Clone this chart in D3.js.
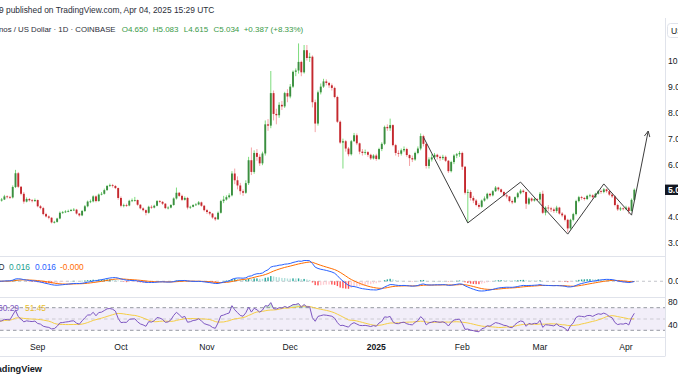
<!DOCTYPE html>
<html>
<head>
<meta charset="utf-8">
<script src="https://cdn.jsdelivr.net/npm/d3@7"></script>
<style>
  body { margin: 0; background: #fff; }
  svg { display: block; }
  text { font-family: "Liberation Sans", Arial, sans-serif; }
</style>
</head>
<body>
<svg id="chart" width="678" height="381"></svg>
<script>
// daily candles, first bar 2024-08-18, open of each bar = previous close
const startDate = "2024-08-18";
const firstOpen = 4.55;
const closes = [
  // Aug 18-31
  4.62, 4.66, 4.78, 4.76, 4.74, 5.14, 5.67, 5.15, 4.88, 4.58, 4.68, 4.63, 4.60, 4.64,
  // Sep
  4.40, 4.33, 4.10, 4.01, 3.96, 3.78, 3.80, 3.93, 4.15, 4.17, 4.20, 4.22, 4.26, 4.27, 4.12,
  4.05, 4.22, 4.40, 4.58, 4.59, 4.78, 4.60, 4.85, 4.88, 5.02, 5.18, 5.21, 5.18, 5.10, 4.72,
  // Oct
  4.42, 4.44, 4.43, 4.61, 4.63, 4.64, 4.46, 4.32, 4.25, 4.15, 4.38, 4.35, 4.42, 4.60, 4.57,
  4.50, 4.33, 4.35, 4.45, 4.70, 4.92, 4.80, 4.65, 4.72, 4.35, 4.38, 4.45, 4.47, 4.55, 4.42, 4.25,
  // Nov
  4.18, 4.12, 3.97, 3.90, 4.15, 4.60, 4.66, 4.75, 4.82, 5.66, 5.40, 5.20, 4.98, 4.92, 5.29,
  6.17, 5.72, 6.45, 6.30, 6.05, 6.43, 7.55, 7.50, 8.75, 7.95, 7.90, 8.30, 8.24, 8.75, 8.62,
  // Dec
  9.00, 9.57, 9.62, 9.95, 9.55, 10.40, 10.10, 10.15, 8.40, 7.58, 8.78, 9.00, 9.20, 9.14, 9.05,
  8.95, 8.60, 7.65, 6.85, 6.90, 6.62, 6.40, 6.90, 7.13, 6.82, 6.50, 6.45, 6.48, 6.38, 6.24, 6.35,
  // Jan
  6.22, 6.60, 6.80, 7.45, 7.40, 7.52, 6.75, 6.45, 6.42, 6.55, 6.60, 6.37, 6.25, 6.20, 6.45,
  6.62, 7.10, 6.80, 5.95, 6.20, 6.28, 6.38, 6.30, 6.25, 6.30, 6.15, 5.75, 6.10, 6.35, 6.40, 6.45,
  // Feb
  5.92, 4.92, 4.95, 4.72, 4.62, 4.45, 4.38, 4.62, 4.70, 4.88, 4.82, 4.98, 5.12, 5.05,
  4.95, 4.82, 4.78, 4.60, 4.55, 4.75, 4.90, 5.00, 4.95, 4.50, 4.70, 4.62, 4.68, 4.66,
  // Mar
  4.88, 4.15, 4.35, 4.32, 4.28, 4.22, 4.35, 4.12, 4.05, 3.88, 3.55, 3.88, 4.10, 4.60, 4.75,
  4.72, 4.68, 4.80, 4.82, 4.75, 4.88, 4.98, 4.95, 5.05, 4.98, 4.85, 4.78, 4.45, 4.28, 4.32, 4.30,
  // Apr 1-4
  4.35, 4.22, 4.647, 5.034
];
const highs = [
  4.68, 4.72, 4.84, 4.82, 4.80, 5.20, 5.80, 5.72, 5.18, 4.95, 4.74, 4.72, 4.68, 4.70,
  4.66, 4.45, 4.38, 4.15, 4.05, 3.98, 3.84, 3.96, 4.20, 4.22, 4.25, 4.27, 4.30, 4.33, 4.30,
  4.14, 4.26, 4.45, 4.62, 4.66, 4.82, 4.82, 4.89, 4.95, 5.08, 5.22, 5.27, 5.26, 5.22, 5.12,
  4.78, 4.50, 4.50, 4.65, 4.70, 4.76, 4.66, 4.48, 4.36, 4.28, 4.42, 4.44, 4.46, 4.64, 4.64,
  4.60, 4.52, 4.40, 4.48, 4.74, 5.12, 4.95, 4.85, 4.78, 4.76, 4.42, 4.48, 4.52, 4.60, 4.58, 4.45,
  4.30, 4.22, 4.14, 4.00, 4.20, 4.65, 4.80, 4.82, 4.90, 5.75, 5.85, 5.55, 5.30, 5.05, 5.40,
  6.30, 6.66, 6.55, 6.60, 6.40, 6.50, 7.70, 7.75, 9.60, 8.85, 8.15, 8.40, 8.45, 8.80, 8.90,
  9.10, 9.62, 9.70, 10.66, 10.00, 10.60, 10.60, 10.30, 10.20, 8.50, 8.85, 9.12, 9.30, 9.28, 9.18,
  9.12, 9.00, 8.65, 7.70, 7.00, 6.95, 6.68, 6.95, 7.22, 7.20, 6.85, 6.60, 6.58, 6.52, 6.42, 6.40,
  6.42, 6.65, 6.86, 7.50, 7.55, 7.77, 7.55, 6.80, 6.55, 6.62, 6.70, 6.65, 6.40, 6.35, 6.50,
  6.70, 7.20, 7.15, 6.82, 6.28, 6.40, 6.45, 6.42, 6.35, 6.38, 6.35, 6.18, 6.15, 6.40, 6.45, 6.52,
  6.50, 5.95, 5.05, 5.02, 4.80, 4.68, 4.52, 4.66, 4.78, 4.92, 4.92, 5.02, 5.18, 5.15,
  5.08, 4.98, 4.88, 4.80, 4.66, 4.78, 4.95, 5.06, 5.05, 4.96, 4.75, 4.74, 4.74, 4.72,
  4.95, 5.00, 4.40, 4.45, 4.38, 4.35, 4.42, 4.38, 4.18, 4.10, 3.92, 3.92, 4.15, 4.65, 4.80,
  4.80, 4.76, 4.84, 4.88, 4.86, 4.92, 5.02, 5.04, 5.10, 5.08, 5.00, 4.90, 4.82, 4.50, 4.38, 4.36,
  4.42, 4.40, 4.70, 5.083
];
const lows = [
  4.52, 4.58, 4.64, 4.70, 4.68, 4.70, 5.10, 5.10, 4.82, 4.50, 4.55, 4.58, 4.55, 4.57,
  4.36, 4.28, 4.05, 3.97, 3.90, 3.74, 3.74, 3.77, 3.90, 4.11, 4.14, 4.17, 4.20, 4.22, 4.08,
  4.00, 4.02, 4.18, 4.36, 4.52, 4.55, 4.55, 4.58, 4.82, 4.85, 5.00, 5.14, 5.12, 5.06, 4.65,
  4.36, 4.36, 4.38, 4.40, 4.56, 4.58, 4.42, 4.28, 4.20, 4.05, 4.12, 4.30, 4.32, 4.40, 4.52,
  4.45, 4.29, 4.28, 4.32, 4.42, 4.66, 4.76, 4.60, 4.62, 4.28, 4.30, 4.36, 4.42, 4.44, 4.38, 4.20,
  4.10, 4.05, 3.92, 3.84, 3.88, 4.12, 4.52, 4.62, 4.70, 4.78, 5.25, 5.05, 4.85, 4.80, 4.88,
  5.22, 5.60, 5.65, 6.15, 5.95, 5.98, 6.35, 7.30, 7.40, 7.70, 7.55, 7.80, 8.10, 8.18, 8.40,
  8.55, 8.95, 9.40, 9.50, 9.40, 9.50, 10.00, 9.95, 8.20, 7.25, 7.50, 8.70, 8.95, 9.05, 8.95,
  8.85, 8.55, 7.60, 6.80, 5.85, 6.50, 6.32, 6.35, 6.88, 6.75, 6.40, 6.35, 6.38, 6.30, 6.18, 6.20,
  6.15, 6.18, 6.52, 6.75, 7.30, 7.30, 6.70, 6.35, 6.30, 6.35, 6.48, 6.30, 5.95, 6.10, 6.15,
  6.40, 6.55, 6.70, 5.85, 5.85, 6.12, 6.22, 6.20, 6.15, 6.18, 6.10, 5.68, 5.70, 6.02, 6.25, 6.30,
  5.80, 4.85, 3.78, 4.62, 4.52, 4.40, 4.30, 4.35, 4.58, 4.66, 4.76, 4.78, 4.95, 4.98,
  4.90, 4.78, 4.70, 4.55, 4.48, 4.52, 4.70, 4.86, 4.90, 4.30, 4.45, 4.56, 4.58, 4.60,
  4.52, 4.10, 4.05, 4.20, 4.18, 4.15, 4.15, 4.08, 3.98, 3.82, 3.40, 3.50, 3.82, 4.05, 4.55,
  4.65, 4.62, 4.64, 4.74, 4.70, 4.72, 4.85, 4.88, 4.90, 4.92, 4.80, 4.72, 4.40, 4.22, 4.22, 4.24,
  4.25, 4.10, 4.20, 4.615
];

const priceTicks = [3, 4, 5, 6, 7, 8, 9, 10];
const monthDates = ["2024-09-01", "2024-10-01", "2024-11-01", "2024-12-01", "2025-01-01", "2025-02-01", "2025-03-01", "2025-04-01"];
const monthLabels = ["Sep", "Oct", "Nov", "Dec", "2025", "Feb", "Mar", "Apr"];

// hand drawn zigzag projection
const zigDates = ["2025-01-18", "2025-02-03", "2025-02-22", "2025-03-11", "2025-03-24", "2025-04-03", "2025-04-09"];
const zigPrices = [7.06, 3.76, 5.33, 3.33, 5.26, 4.06, 7.29];

const header = "9 published on TradingView.com, Apr 04, 2025 15:29 UTC";
const symbolText = "nos / US Dollar · 1D · COINBASE";
const ohlcText = ["O4.650", "H5.083", "L4.615", "C5.034", "+0.387 (+8.33%)"];
const macdLegend = ["0.016", "0.016", "-0.000"];
const rsiLegend = ["60.29", "51.45"];

const svg = d3.select("#chart");
const axisX = 665;
const upBody = "#3b8e40", upWick = "#7ddc7d", dnBody = "#c4282e", dnWick = "#f4a3a6";
const txt = "#131722";

const parse = d3.utcParse("%Y-%m-%d");
const t0 = parse(startDate);
const bars = closes.map((c, i) => {
  const o = i ? closes[i - 1] : firstOpen;
  return {
    date: d3.utcDay.offset(t0, i),
    open: o,
    close: c,
    high: Math.max(highs[i], o, c),
    low: Math.min(lows[i], o, c)
  };
});

const x = d3.scaleUtc()
  .domain([parse("2024-09-01"), parse("2025-04-01")])
  .range([37.7, 626]);
const y = d3.scaleLinear().domain([3, 10]).range([242.7, 60.6]);

// clip regions
const defs = svg.append("defs");
defs.append("clipPath").attr("id", "clipMain").append("rect")
  .attr("x", 0).attr("y", 18).attr("width", axisX).attr("height", 238);
defs.append("clipPath").attr("id", "clipMacd").append("rect")
  .attr("x", 0).attr("y", 256.5).attr("width", axisX).attr("height", 41);
defs.append("clipPath").attr("id", "clipRsi").append("rect")
  .attr("x", 0).attr("y", 298).attr("width", axisX).attr("height", 39);
defs.append("marker")
  .attr("id", "arrow")
  .attr("viewBox", "0 0 10 10")
  .attr("refX", 9).attr("refY", 5)
  .attr("markerWidth", 7).attr("markerHeight", 7)
  .attr("markerUnits", "userSpaceOnUse")
  .attr("orient", "auto")
  .append("path")
  .attr("d", "M1,1 L9,5 L1,9")
  .attr("fill", "none")
  .attr("stroke", "#3d3d3d")
  .attr("stroke-width", 1.3);

// panel borders
const lines = svg.append("g").attr("stroke", "#e0e3eb").attr("stroke-width", 1);
[256.5, 297.5, 337.5, 356.5].forEach(v => {
  lines.append("line").attr("x1", 0).attr("x2", axisX).attr("y1", v).attr("y2", v);
});
lines.append("line").attr("x1", axisX + 0.5).attr("x2", axisX + 0.5).attr("y1", 18).attr("y2", 356.5);

// candles
const main = svg.append("g").attr("clip-path", "url(#clipMain)");
const bw = 1.9;
main.append("g").selectAll("line")
  .data(bars)
  .join("line")
  .attr("x1", d => x(d.date)).attr("x2", d => x(d.date))
  .attr("y1", d => y(d.high)).attr("y2", d => y(d.low))
  .attr("stroke", d => d.close >= d.open ? upWick : dnWick)
  .attr("stroke-width", 1);
main.append("g").selectAll("rect")
  .data(bars)
  .join("rect")
  .attr("x", d => x(d.date) - bw / 2)
  .attr("width", bw)
  .attr("y", d => y(Math.max(d.open, d.close)))
  .attr("height", d => Math.max(0.8, Math.abs(y(d.open) - y(d.close))))
  .attr("fill", d => d.close >= d.open ? upBody : dnBody);

// zigzag drawing
const zig = zigDates.map((d, i) => [parse(d), zigPrices[i]]);
main.append("path")
  .datum(zig)
  .attr("d", d3.line().x(d => x(d[0])).y(d => y(d[1])))
  .attr("fill", "none")
  .attr("stroke", "#3d3d3d")
  .attr("stroke-width", 1)
  .attr("marker-end", "url(#arrow)");

// ---- MACD 12 26 9 ----
function ema(values, n) {
  const k = 2 / (n + 1);
  let prev = values[0];
  return values.map((v, i) => (prev = i ? v * k + prev * (1 - k) : v));
}
const e12 = ema(closes, 12), e26 = ema(closes, 26);
const macd = e12.map((v, i) => v - e26[i]);
const signal = ema(macd, 9);
const hist = macd.map((v, i) => v - signal[i]);

const ym = d3.scaleLinear()
  .domain(d3.extent(macd.concat(signal, hist)))
  .range([291, 260.5]);

const mg = svg.append("g").attr("clip-path", "url(#clipMacd)");
mg.append("line")
  .attr("x1", 0).attr("x2", axisX)
  .attr("y1", ym(0)).attr("y2", ym(0))
  .attr("stroke", "#b2b5be").attr("stroke-width", 0.8)
  .attr("stroke-dasharray", "3,3");
mg.append("g").selectAll("rect")
  .data(hist)
  .join("rect")
  .attr("x", (d, i) => x(bars[i].date) - 0.7)
  .attr("width", 1.4)
  .attr("y", d => Math.min(ym(0), ym(d)))
  .attr("height", d => Math.abs(ym(d) - ym(0)))
  .attr("fill", (d, i) => {
    const p = i ? hist[i - 1] : d;
    if (d >= 0) return d >= p ? "#26a69a" : "#b2dfdb";
    return d <= p ? "#ff5252" : "#ffcdd2";
  });
const mline = vals => d3.line().x((d, i) => x(bars[i].date)).y(d => ym(d))(vals);
mg.append("path").attr("d", mline(signal)).attr("fill", "none").attr("stroke", "#ff6d00").attr("stroke-width", 1);
mg.append("path").attr("d", mline(macd)).attr("fill", "none").attr("stroke", "#2962ff").attr("stroke-width", 1);

// ---- RSI 14 with 14 SMA ----
function rsiCalc(values, n) {
  const ch = values.slice(1).map((v, i) => v - values[i]);
  let ag = d3.mean(ch.slice(0, n), d => Math.max(d, 0));
  let al = d3.mean(ch.slice(0, n), d => Math.max(-d, 0));
  const out = [100 - 100 / (1 + ag / al)];
  ch.forEach(c => {
    ag = (ag * (n - 1) + Math.max(c, 0)) / n;
    al = (al * (n - 1) + Math.max(-c, 0)) / n;
    out.push(al === 0 ? 100 : 100 - 100 / (1 + ag / al));
  });
  return out;
}
const rsi = rsiCalc(closes, 14);
const rsiMa = rsi.map((v, i) => d3.mean(rsi.slice(Math.max(0, i - 13), i + 1)));

const yr = d3.scaleLinear().domain([30, 70]).range([330.3, 307.7]);
const rg = svg.append("g").attr("clip-path", "url(#clipRsi)");
rg.append("rect")
  .attr("x", 0).attr("width", axisX)
  .attr("y", yr(70)).attr("height", yr(30) - yr(70))
  .attr("fill", "rgba(126,87,194,0.1)");
[70, 50, 30].forEach(v => {
  rg.append("line")
    .attr("x1", 0).attr("x2", axisX)
    .attr("y1", yr(v)).attr("y2", yr(v))
    .attr("stroke", "#8a8d96").attr("stroke-width", v === 50 ? 0.6 : 0.9)
    .attr("stroke-dasharray", "3.5,3")
    .attr("opacity", v === 50 ? 0.6 : 1);
});
rg.append("path")
  .attr("d", d3.area().x((d, i) => x(bars[i].date)).y0(yr(70)).y1(d => yr(Math.max(d, 70)))(rsi))
  .attr("fill", "rgba(76,175,80,0.25)");
rg.append("path")
  .attr("d", d3.area().x((d, i) => x(bars[i].date)).y0(yr(30)).y1(d => yr(Math.min(d, 30)))(rsi))
  .attr("fill", "rgba(242,54,69,0.2)");
const rline = vals => d3.line().x((d, i) => x(bars[i].date)).y(d => yr(d))(vals);
rg.append("path").attr("d", rline(rsiMa)).attr("fill", "none").attr("stroke", "#f6ce45").attr("stroke-width", 1);
rg.append("path").attr("d", rline(rsi)).attr("fill", "none").attr("stroke", "#7e57c2").attr("stroke-width", 1);

// ---- axes ----
const fs = 8.6;
const last = bars[bars.length - 1];
// the last-price tag hides the tick label it covers
svg.append("g")
  .selectAll("text")
  .data(priceTicks.filter(d => Math.abs(y(d) - y(last.close)) > 9))
  .join("text")
  .attr("x", 668).attr("y", d => y(d))
  .attr("dy", "0.35em")
  .attr("font-size", fs).attr("fill", txt)
  .text(d => d.toFixed(2));

// last price tag
svg.append("rect")
  .attr("x", axisX).attr("y", y(last.close) - 5.2)
  .attr("width", 20).attr("height", 10.4)
  .attr("fill", "#131722");
svg.append("text")
  .attr("x", 668).attr("y", y(last.close))
  .attr("dy", "0.35em")
  .attr("font-size", fs).attr("font-weight", "bold").attr("fill", "#fff")
  .text(last.close.toFixed(3));

// currency button
svg.append("rect")
  .attr("x", 667.5).attr("y", 23.5).attr("width", 24).attr("height", 14).attr("rx", 3)
  .attr("fill", "#fff").attr("stroke", "#e0e3eb");
svg.append("text")
  .attr("x", 671).attr("y", 30.5).attr("dy", "0.35em")
  .attr("font-size", fs).attr("fill", txt).text("USD");

// indicator scale labels
svg.append("text").attr("x", 668).attr("y", ym(0)).attr("dy", "0.35em")
  .attr("font-size", fs).attr("fill", txt).text("0.000");
[80, 40].forEach(v => {
  svg.append("text").attr("x", 668).attr("y", yr(v)).attr("dy", "0.35em")
    .attr("font-size", fs).attr("fill", txt).text(v.toFixed(2));
});

// time axis
svg.append("g")
  .selectAll("text")
  .data(monthDates)
  .join("text")
  .attr("x", d => x(parse(d)))
  .attr("y", 347)
  .attr("dy", "0.35em")
  .attr("text-anchor", "middle")
  .attr("font-size", fs)
  .attr("font-weight", (d, i) => monthLabels[i] === "2025" ? "bold" : "normal")
  .attr("fill", txt)
  .text((d, i) => monthLabels[i]);

// ---- texts ----
svg.append("text").attr("x", -1).attr("y", 10).attr("dy", "0.35em")
  .attr("font-size", 8.4).attr("fill", "#2a2e39").text(header);

svg.append("text").attr("x", -1).attr("y", 29.3).attr("dy", "0.35em")
  .attr("font-size", 7.8).attr("fill", "#2a2e39").text(symbolText);
const ohlcX = [121.7, 152.7, 183.7, 213.5, 243.7];
ohlcText.forEach((s, i) => {
  svg.append("text").attr("x", ohlcX[i]).attr("y", 29.3).attr("dy", "0.35em")
    .attr("font-size", 8.0).attr("fill", "#3a9a48").text(s);
});

svg.append("text").attr("x", 4.5).attr("y", 267).attr("dy", "0.35em")
  .attr("text-anchor", "end").attr("font-size", 8.4).attr("fill", "#2a2e39").text("MACD");
const macdColors = ["#22a08f", "#2962ff", "#ff6d00"];
const macdX = [9, 35, 60];
macdLegend.forEach((s, i) => {
  svg.append("text").attr("x", macdX[i]).attr("y", 267).attr("dy", "0.35em")
    .attr("font-size", 8.4).attr("fill", macdColors[i]).text(s);
});

const rsiColors = ["#7e57c2", "#e8bd2e"];
const rsiX = [-2, 25];
rsiLegend.forEach((s, i) => {
  svg.append("text").attr("x", rsiX[i]).attr("y", 308.3).attr("dy", "0.35em")
    .attr("font-size", 8.4).attr("fill", rsiColors[i]).text(s);
});

svg.append("text").attr("x", 42).attr("y", 368.5).attr("dy", "0.35em")
  .attr("text-anchor", "end").attr("font-size", 9.2).attr("font-weight", "600")
  .attr("fill", "#131722").text("TradingView");
</script>
</body>
</html>
